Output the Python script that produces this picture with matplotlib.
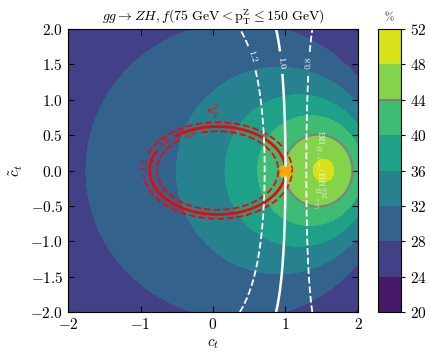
import numpy as np
import matplotlib
matplotlib.use("Agg")
import matplotlib.pyplot as plt

plt.rcParams.update({
    "font.family": "serif",
    "font.serif": ["cmr10", "DejaVu Serif"],
    "mathtext.fontset": "cm",
    "axes.formatter.use_mathtext": True,
    "xtick.direction": "in", "ytick.direction": "in",
    "xtick.top": True, "ytick.right": True,
    "axes.unicode_minus": True,
})

# ---- data ----
# points lying on the filled-contour boundaries of f (ct, ctilde, level in %)
f_ct   = [-1.75, -0.04, 1.34, 2.00, 1.95, -0.548, 1.20, 0.156, 1.34, 0.602, 1.48, 1.007, 1.959, 1.48, 1.407, 1.73, 1.57]
f_ctil = [ 0.00,  1.98, 2.00, 1.29, 1.93,  0.000, 1.41, 0.000, 1.02, 0.000, 0.75, 0.000, 0.000, 0.457, 0.000, 0.00, 0.16]
f_lev  = [ 28,    28,   28,   28,   24,    32,    32,   36,    36,   40,    40,   44,    44,    44,    48,    48,   48]

levels = [20, 24, 28, 32, 36, 40, 44, 48, 52]
gray_level = [44]

# kappa_g^2 = a ct^2 + b ct + c ctilde^2 + d
kg_coef = [1.13, -0.145, 2.56, 0.015]
kg_levels = [0.8, 1.0, 1.2]
kg_styles = ["--", "-", "--"]
kg_widths = [1.3, 2.0, 1.3]
kg_label_pos = [(-0.30, 0.47), (-0.69, 0.43), (-0.99, 0.10)]

# BR ratio = a0 + a1 ct + (b0 + b1 ct) ctilde^2
br_coef = [1.696, -0.696, -0.087, 0.074]
br_levels = [0.8, 1.0, 1.2]
br_styles = ["--", "-", "--"]
br_widths = [1.3, 1.8, 1.3]
br_label_pos = [(1.32, 1.52), (0.90, 1.52), (0.48, 1.59)]

sm_point = (1.0, 0.0)

# ---- model fit of f = N/D through the read boundary points ----
x = np.array(f_ct); y = np.array(f_ctil); L = np.array(f_lev, float)
A = np.column_stack([x**2, x, np.ones_like(x), y**2, -L*x, -L, -L*y**2])
b = L*x**2
n2, n1, n0, m, d1, d0, e = np.linalg.lstsq(A, b, rcond=None)[0]

ct = np.linspace(-2, 2, 401)
cp = np.linspace(-2, 2, 401)
X, Y = np.meshgrid(ct, cp)
F = (n2*X**2 + n1*X + n0 + m*Y**2) / (X**2 + d1*X + d0 + e*Y**2)
KG = kg_coef[0]*X**2 + kg_coef[1]*X + kg_coef[2]*Y**2 + kg_coef[3]
BR = br_coef[0] + br_coef[1]*X + (br_coef[2] + br_coef[3]*X)*Y**2

fig = plt.figure(figsize=(4.31, 3.60), dpi=100)
ax = fig.add_axes([0.1578, 0.1333, 0.6728, 0.7861])
cax = fig.add_axes([0.877, 0.1333, 0.0534, 0.7861])

cf = ax.contourf(X, Y, F, levels=levels, cmap="viridis")
cg = ax.contour(X, Y, F, levels=gray_level, colors="gray", linewidths=1.5)

for lev, ls, lw, pos in zip(kg_levels, kg_styles, kg_widths, kg_label_pos):
    c = ax.contour(X, Y, KG, levels=[lev], colors="red", linestyles=ls, linewidths=lw)
    ax.clabel(c, fmt="%.1f", fontsize=7, manual=[pos], inline=True)
ax.text(-0.01, 0.83, r"$\kappa_g^2$", color="red", fontsize=8, ha="center", va="center")

for lev, ls, lw, pos in zip(br_levels, br_styles, br_widths, br_label_pos):
    c = ax.contour(X, Y, BR, levels=[lev], colors="white", linestyles=ls, linewidths=lw)
    ax.clabel(c, fmt="%.1f", fontsize=7, manual=[pos], inline=True)
ax.text(1.46, 0.0, r"$\mathrm{BR}_{H\to\gamma\gamma}/\mathrm{BR}^{\mathrm{SM}}_{H\to\gamma\gamma}$",
        color="white", alpha=0.8, fontsize=7, rotation=-90, ha="center", va="center")

ax.plot([sm_point[0]], [sm_point[1]], marker="X", color="orange", markersize=9, zorder=5)

ax.set_xlim(-2, 2); ax.set_ylim(-2, 2)
ax.set_xticks([-2, -1, 0, 1, 2])
ax.set_yticks(np.arange(-2, 2.01, 0.5))
ax.yaxis.set_major_formatter(matplotlib.ticker.FormatStrFormatter(r"$%.1f$"))
ax.xaxis.set_major_formatter(matplotlib.ticker.FormatStrFormatter(r"$%d$"))
ax.tick_params(labelsize=11, length=4)
ax.set_xlabel(r"$c_t$", fontsize=11)
ax.set_ylabel(r"$\tilde{c}_t$", fontsize=11)
ax.set_title(r"$gg\to ZH, f(75\ \mathrm{GeV} < \mathrm{p}_\mathrm{T}^\mathrm{Z} \leq 150\ \mathrm{GeV})$", fontsize=10)

cbar = fig.colorbar(cf, cax=cax, ticks=levels)
cbar.add_lines(cg)
cbar.ax.tick_params(labelsize=11, direction="out", length=3)
cbar.ax.set_title("%", fontsize=8)

fig.savefig("out.png", dpi=100)
